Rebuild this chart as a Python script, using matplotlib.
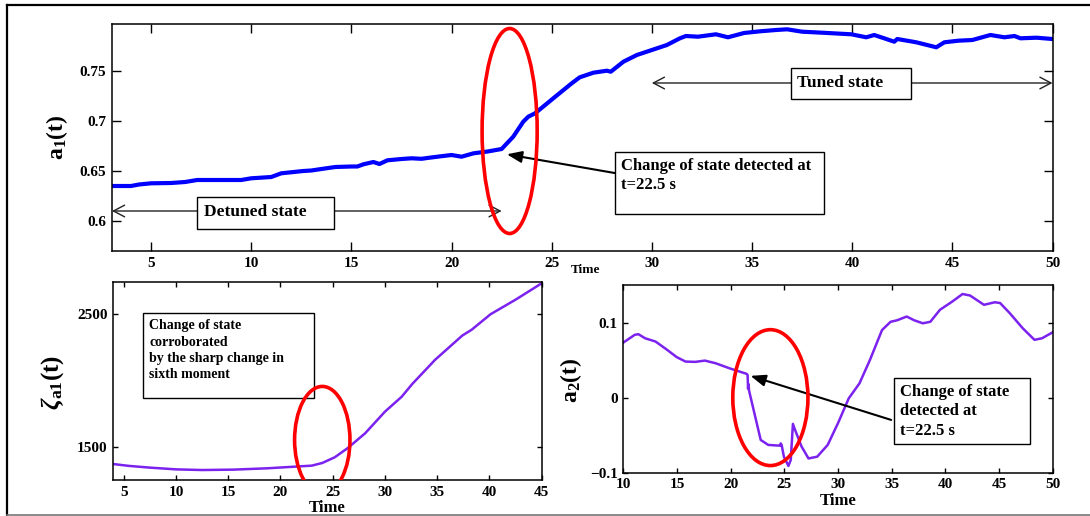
import matplotlib
matplotlib.use('Agg')
import matplotlib.pyplot as plt
from matplotlib.patches import Ellipse, Rectangle
from matplotlib.lines import Line2D

plt.rcParams['font.family'] = 'Liberation Serif'
plt.rcParams['font.weight'] = 'bold'
plt.rcParams['axes.labelweight'] = 'bold'
plt.rcParams['mathtext.fontset'] = 'custom'
plt.rcParams['mathtext.rm'] = 'Liberation Serif:bold'
plt.rcParams['mathtext.it'] = 'Liberation Serif:italic:bold'
plt.rcParams['mathtext.bf'] = 'Liberation Serif:bold'

# first moment a1(t)
t_a1 = [3.05, 4.0, 4.4, 5.0, 6.0, 6.7, 7.3, 8.5, 9.5, 10.0, 11.0, 11.5, 12.6, 13.0,
        13.5, 14.2, 15.0, 15.3, 15.6, 16.1, 16.4, 16.8, 17.5, 18.0, 18.5, 18.9,
        19.5, 20.0, 20.5, 21.1, 21.8, 22.5, 23.08, 23.58, 23.83, 24.17, 25.08,
        26.0, 26.4, 27.08, 27.75, 27.95, 28.58, 29.25, 30.0, 30.75, 31.4, 31.7,
        32.3, 33.2, 33.8, 34.6, 35.4, 36.2, 36.75, 37.5, 38.5, 39.96, 40.7, 41.1,
        41.6, 42.1, 42.25, 43.2, 44.2, 44.6, 45.3, 46.0, 46.9, 47.6, 48.1, 48.4,
        49.2, 50.0]
a1 = [0.635, 0.635, 0.6365, 0.6377, 0.638, 0.639, 0.641, 0.641, 0.641, 0.6427,
      0.644, 0.6477, 0.650, 0.6505, 0.652, 0.654, 0.6545, 0.6545, 0.6567, 0.659,
      0.657, 0.6607, 0.662, 0.6627, 0.6622, 0.6633, 0.6648, 0.666, 0.6643,
      0.6677, 0.6695, 0.672, 0.6843, 0.6993, 0.7043, 0.7077, 0.7227, 0.7377,
      0.7437, 0.7483, 0.7503, 0.7493, 0.7593, 0.766, 0.771, 0.776, 0.7827,
      0.785, 0.7843, 0.7867, 0.7837, 0.788, 0.7897, 0.791, 0.7917, 0.7893,
      0.7883, 0.7867, 0.7837, 0.786, 0.7827, 0.7793, 0.782, 0.7787, 0.7737,
      0.7787, 0.7803, 0.781, 0.786, 0.7837, 0.785, 0.7827, 0.7833, 0.782]

# sixth moment zeta_a1(t)
t_zeta = [4, 5.5, 7.5, 10, 12.5, 15.5, 18.75, 21.3, 23, 24, 25.2, 26.4, 28.1, 30,
          31.6, 32.6, 34.8, 37.4, 38.3, 40.1, 42.5, 45]
zeta = [1374, 1360, 1347, 1334, 1329, 1332, 1342, 1354, 1362, 1382, 1425, 1492,
        1605, 1768, 1880, 1975, 2158, 2340, 2384, 2500, 2610, 2733]

# second moment a2(t)
t_a2 = [10.0, 11.06, 11.4, 12.04, 13.0, 14.0, 14.98, 15.8, 16.7, 17.6, 18.6, 19.9,
        21.5, 21.58, 21.62, 21.66, 21.72, 22.8, 23.5, 24.6, 24.66, 24.75, 24.96,
        25.38, 25.6, 25.8, 26.0, 26.6, 27.25, 28.06, 29.04, 30.0, 31.0, 32.0,
        32.97, 34.1, 34.9, 35.5, 36.4, 37.1, 37.9, 38.6, 39.5, 40.65, 41.6, 42.3,
        43.6, 44.6, 45.1, 46.0, 47.2, 48.3, 49.0, 50.0]
a2 = [0.0733, 0.0836, 0.0845, 0.079, 0.0747, 0.0645, 0.0539, 0.048, 0.0476,
      0.0493, 0.0458, 0.039, 0.0316, 0.030, 0.012, 0.018, 0.009, -0.0564, -0.063,
      -0.064, -0.061, -0.063, -0.0787, -0.091, -0.083, -0.035, -0.043, -0.065,
      -0.081, -0.0787, -0.063, -0.034, -0.001, 0.019, 0.050, 0.090, 0.101, 0.103,
      0.108, 0.103, 0.099, 0.101, 0.117, 0.128, 0.138, 0.136, 0.1236, 0.127,
      0.126, 0.1125, 0.0925, 0.077, 0.079, 0.087]

a1_xticks = [5, 10, 15, 20, 25, 30, 35, 40, 45, 50]
a1_yticks = [0.6, 0.65, 0.7, 0.75]
a1_yticklabels = ['0.6', '0.65', '0.7', '0.75']
zeta_xticks = [5, 10, 15, 20, 25, 30, 35, 40, 45]
zeta_yticks = [1500, 2500]
a2_xticks = [10, 15, 20, 25, 30, 35, 40, 45, 50]
a2_yticks = [-0.1, 0, 0.1]
a2_yticklabels = ['\u22120.1', '0', '0.1']

W, H = 1090, 516
fig = plt.figure(figsize=(W / 100, H / 100), dpi=100)


def px_axes(l, t, r, b):
    return fig.add_axes([l / W, 1 - b / H, (r - l) / W, (b - t) / H])


def style(ax, ticklen):
    ax.tick_params(direction='in', top=True, right=True, length=ticklen,
                   width=1, labelsize=11, pad=4)
    for s in ax.spines.values():
        s.set_linewidth(1.1)


def box(ax, x, y, w, h):
    ax.add_patch(Rectangle((x, y), w, h, transform=ax.transAxes, fc='white',
                           ec='black', lw=1, zorder=4))


# outer frame
fig.add_artist(Line2D([6.5 / W, 6.5 / W], [1 - 515 / H, 1 - 4.7 / H], color='black', lw=1.6))
fig.add_artist(Line2D([6.5 / W, 1], [1 - 4.7 / H, 1 - 4.7 / H], color='black', lw=1.6))
fig.add_artist(Line2D([6.5 / W, 1], [1 - 515 / H, 1 - 515 / H], color='#777777', lw=1.2))

# ---- top: a1(t) ----
ax1 = px_axes(112, 24, 1052.5, 251)
ax1.plot(t_a1, a1, color='#0000ff', lw=3, zorder=2)
ax1.set_xlim(3.05, 50)
ax1.set_ylim(0.570, 0.797)
ax1.set_xticks(a1_xticks)
ax1.set_yticks(a1_yticks)
ax1.set_yticklabels(a1_yticklabels)
style(ax1, 6.8)
ax1.set_ylabel('a$_{1}$(t)', fontsize=17)
ax1.yaxis.set_label_coords(-0.0585, 0.5)
ax1.yaxis.label.set_va('center')
ax1.set_xlabel('Time', fontsize=9.5)
ax1.xaxis.set_label_coords(0.503, -0.084)
ax1.xaxis.label.set_va('center')

ax1.add_patch(Ellipse((22.9, 0.690), 2.75, 0.205, fill=False, ec='red', lw=2.6, zorder=5))

state_arrow = dict(arrowstyle='<->,head_length=0.8,head_width=0.42', color='#222222',
                   lw=1, shrinkA=0, shrinkB=0, mutation_scale=10)
ax1.annotate('', xy=(3.05, 0.610), xytext=(22.5, 0.610), arrowprops=state_arrow, zorder=3)
ax1.annotate('', xy=(30, 0.738), xytext=(50, 0.738), arrowprops=state_arrow,
             annotation_clip=False, zorder=3)

box(ax1, 0.0909, 0.0969, 0.1451, 0.141)
ax1.text(0.0974, 0.172, 'Detuned state', transform=ax1.transAxes, fontsize=12.5,
         va='center', ha='left', zorder=6)
box(ax1, 0.722, 0.6683, 0.1276, 0.139)
ax1.text(0.7283, 0.742, 'Tuned state', transform=ax1.transAxes, fontsize=12.5,
         va='center', ha='left', zorder=6)

change_arrow = dict(arrowstyle='-|>,head_length=0.9,head_width=0.35', color='black',
                    lw=1.5, shrinkA=0, shrinkB=0, mutation_scale=10)
ax1.annotate('', xy=(22.76, 0.6667), xytext=(28.14, 0.648), arrowprops=change_arrow, zorder=3)
box(ax1, 0.5344, 0.163, 0.2226, 0.273)
ax1.text(0.5412, 0.41, 'Change of state detected at\nt=22.5 s', transform=ax1.transAxes,
         fontsize=12, va='top', ha='left', linespacing=1.25, zorder=6)

# ---- bottom left: zeta_a1(t) ----
ax2 = px_axes(113.3, 281.7, 541.7, 480)
ax2.plot(t_zeta, zeta, color='#7b22ee', lw=1.8, zorder=2)
ax2.set_xlim(4, 45)
ax2.set_ylim(1254, 2745)
ax2.set_xticks(zeta_xticks)
ax2.set_yticks(zeta_yticks)
style(ax2, 3.4)
ax2.set_ylabel(r'$\zeta_{\mathrm{a1}}$(t)', fontsize=18)
ax2.yaxis.set_label_coords(-0.141, 0.494)
ax2.yaxis.label.set_va('center')
ax2.set_xlabel('Time', fontsize=12)
ax2.xaxis.set_label_coords(0.5, -0.141)
ax2.xaxis.label.set_va('center')

ax2.add_patch(Ellipse((24.0, 1555), 5.3, 805, fill=False, ec='red', lw=2.6, zorder=5))
box(ax2, 0.070, 0.412, 0.399, 0.4287)
ax2.text(0.084, 0.81, 'Change of state\ncorroborated\nby the sharp change in\nsixth moment',
         transform=ax2.transAxes, fontsize=10, va='top', ha='left', linespacing=1.32, zorder=6)

# ---- bottom right: a2(t) ----
ax3 = px_axes(623.3, 285, 1052.7, 472.7)
ax3.plot(t_a2, a2, color='#7b22ee', lw=1.8, zorder=2)
ax3.set_xlim(10, 50)
ax3.set_ylim(-0.1, 0.15)
ax3.set_xticks(a2_xticks)
ax3.set_yticks(a2_yticks)
ax3.set_yticklabels(a2_yticklabels)
style(ax3, 3.4)
ax3.set_ylabel('a$_{2}$(t)', fontsize=17)
ax3.yaxis.set_label_coords(-0.122, 0.494)
ax3.yaxis.label.set_va('center')
ax3.set_xlabel('Time', fontsize=12)
ax3.xaxis.set_label_coords(0.5, -0.149)
ax3.xaxis.label.set_va('center')

ax3.add_patch(Ellipse((23.7, 0.0), 7.0, 0.181, fill=False, ec='red', lw=2.6, zorder=5))
ax3.annotate('', xy=(21.85, 0.029), xytext=(34.95, -0.0297), arrowprops=change_arrow, zorder=3)
box(ax3, 0.6311, 0.1513, 0.316, 0.3548)
ax3.text(0.6442, 0.475, 'Change of state\ndetected at\nt=22.5 s', transform=ax3.transAxes,
         fontsize=12, va='top', ha='left', linespacing=1.3, zorder=6)

fig.savefig('out.png', dpi=100)
